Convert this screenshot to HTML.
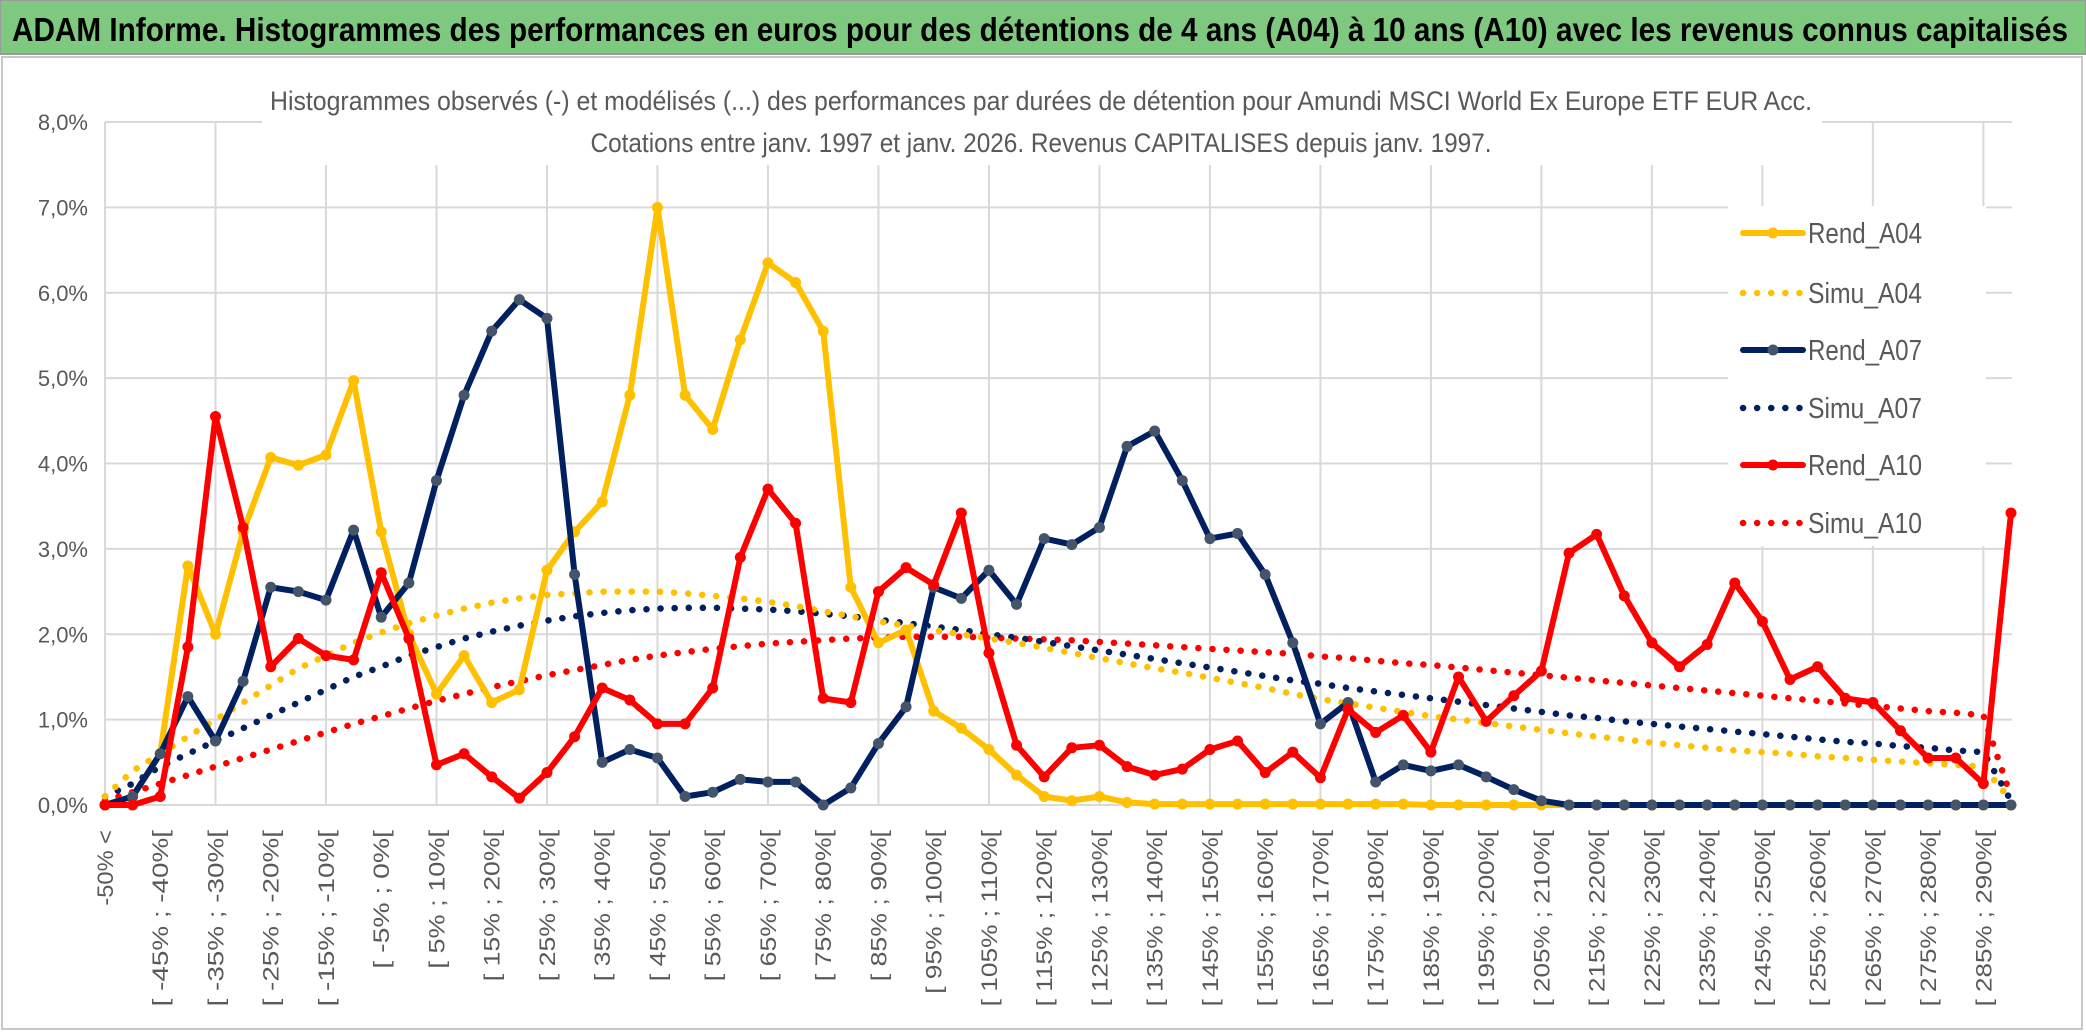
<!DOCTYPE html>
<html><head><meta charset="utf-8"><style>
html,body{margin:0;padding:0;background:#fff;}
svg{display:block;font-family:"Liberation Sans",sans-serif;}
</style></head><body>
<svg id="chart" width="2086" height="1033" viewBox="0 0 2086 1033" xmlns="http://www.w3.org/2000/svg">
<rect x="0" y="0" width="2086" height="1033" fill="#fff"/>
<rect x="2" y="57" width="2080" height="972" fill="none" stroke="#c8c8c8" stroke-width="2"/>
<rect x="0" y="0" width="2086" height="54" fill="#7ec97f" stroke="#9a9a9a" stroke-width="2"/>
<text x="12" y="41" font-size="33" font-weight="bold" fill="#000" textLength="2056" lengthAdjust="spacingAndGlyphs">ADAM Informe. Histogrammes des performances en euros pour des détentions de 4 ans (A04) à 10 ans (A10) avec les revenus connus capitalisés</text>
<g id="grid"></g>
<g id="yaxis"></g>
<g id="xaxis"></g>
<rect x="262" y="75" width="1560" height="90" fill="#fff"/>
<text x="1041" y="110" text-anchor="middle" font-size="27" fill="#595959" textLength="1542" lengthAdjust="spacingAndGlyphs">Histogrammes observés (-) et modélisés (...) des performances par durées de détention pour Amundi MSCI World Ex Europe ETF EUR Acc.</text>
<text x="1041" y="152" text-anchor="middle" font-size="27" fill="#595959" textLength="901" lengthAdjust="spacingAndGlyphs">Cotations entre janv. 1997 et janv. 2026. Revenus CAPITALISES depuis janv. 1997.</text>
<g id="series"></g>
<g id="legend"></g>
</svg>
<script>
const rendA04 = [0,0.1,0.6,2.8,2.0,3.2,4.07,3.98,4.1,4.97,3.2,2.0,1.3,1.75,1.2,1.35,2.75,3.2,3.55,4.8,7.0,4.8,4.4,5.45,6.35,6.12,5.55,2.55,1.9,2.05,1.1,0.9,0.65,0.35,0.1,0.05,0.1,0.03,0.01,0.01,0.01,0.01,0.01,0.01,0.01,0.01,0.01,0.01,0,0,0,0,0,0,0,0,0,0,0,0,0,0,0,0,0,0,0,0,0,0];
const rendA07 = [0,0.1,0.6,1.27,0.75,1.45,2.55,2.5,2.4,3.22,2.2,2.6,3.8,4.8,5.55,5.92,5.7,2.7,0.5,0.65,0.55,0.1,0.15,0.3,0.27,0.27,0,0.2,0.72,1.15,2.55,2.42,2.75,2.35,3.12,3.05,3.25,4.2,4.38,3.8,3.12,3.18,2.7,1.9,0.95,1.2,0.27,0.47,0.4,0.47,0.33,0.18,0.05,0,0,0,0,0,0,0,0,0,0,0,0,0,0,0,0,0];
const rendA10 = [0,0,0.1,1.85,4.55,3.25,1.62,1.95,1.75,1.7,2.72,1.95,0.47,0.6,0.33,0.08,0.38,0.8,1.37,1.23,0.95,0.95,1.37,2.9,3.7,3.3,1.25,1.2,2.5,2.78,2.58,3.42,1.78,0.7,0.33,0.67,0.7,0.45,0.35,0.42,0.65,0.75,0.38,0.62,0.32,1.12,0.85,1.05,0.62,1.5,0.98,1.28,1.57,2.95,3.17,2.45,1.9,1.62,1.88,2.6,2.15,1.47,1.62,1.25,1.2,0.87,0.55,0.55,0.25,3.42];
const simuA04 = [0.1,0.4,0.6,0.8,1.0,1.2,1.4,1.6,1.75,1.9,2.02,2.13,2.22,2.3,2.37,2.42,2.46,2.48,2.5,2.5,2.5,2.48,2.45,2.42,2.38,2.33,2.27,2.21,2.15,2.1,2.05,2.0,1.95,1.9,1.84,1.78,1.72,1.66,1.6,1.55,1.49,1.43,1.37,1.3,1.24,1.19,1.14,1.09,1.04,1.0,0.96,0.92,0.88,0.84,0.8,0.77,0.73,0.7,0.67,0.64,0.62,0.6,0.57,0.55,0.53,0.51,0.49,0.47,0.45,0.05];
const simuA07 = [0.1,0.25,0.45,0.6,0.75,0.9,1.05,1.2,1.35,1.5,1.62,1.75,1.85,1.95,2.03,2.1,2.16,2.21,2.25,2.28,2.3,2.31,2.31,2.3,2.29,2.27,2.24,2.21,2.17,2.13,2.09,2.05,2.0,1.96,1.91,1.86,1.81,1.76,1.71,1.66,1.61,1.56,1.51,1.46,1.42,1.37,1.33,1.29,1.25,1.21,1.17,1.13,1.09,1.05,1.02,0.98,0.95,0.92,0.89,0.86,0.83,0.8,0.77,0.74,0.72,0.69,0.67,0.64,0.62,0.05];
const simuA10 = [0.05,0.15,0.25,0.35,0.45,0.55,0.65,0.75,0.85,0.95,1.04,1.13,1.22,1.3,1.38,1.45,1.52,1.58,1.64,1.7,1.75,1.79,1.83,1.86,1.89,1.91,1.93,1.95,1.96,1.97,1.97,1.97,1.96,1.95,1.94,1.93,1.91,1.89,1.87,1.85,1.83,1.81,1.79,1.77,1.74,1.72,1.69,1.66,1.64,1.61,1.58,1.55,1.52,1.49,1.46,1.43,1.4,1.37,1.34,1.31,1.28,1.25,1.22,1.19,1.16,1.13,1.1,1.08,1.05,0.1];
const yTicks = [0,1,2,3,4,5,6,7,8];
const yTickLabels = ["0,0%","1,0%","2,0%","3,0%","4,0%","5,0%","6,0%","7,0%","8,0%"];
const categories = ["-50% <"];
for (let k = 1; k < 70; k++) { const lo = -50 + 5 * (k - 1); categories.push("[ " + lo + "% ; " + (lo + 5) + "%["); }

const NS = "http://www.w3.org/2000/svg";
const X0 = 105, DX = (2011 - 105) / 69, Y0 = 805, Y8 = 122;
function xPos(i){ return X0 + i * DX; }
function yPos(v){ return Y0 - v * (Y0 - Y8) / 8; }
function mk(tag, attrs, parent){ const e = document.createElementNS(NS, tag); for (const k in attrs) e.setAttribute(k, attrs[k]); parent.appendChild(e); return e; }

const grid = document.getElementById("grid");
yTicks.forEach((t, j) => {
  const l = mk("line", {x1: X0, x2: 2012, y1: yPos(t), y2: yPos(t), stroke: "#d9d9d9", "stroke-width": 2}, grid);
  
  
});
for (let i = 0; i < categories.length; i += 4) {
  const l = mk("line", {x1: xPos(i), x2: xPos(i), y1: Y8, y2: Y0, stroke: "#d9d9d9", "stroke-width": 2}, grid);
  
  
}
const yaxis = document.getElementById("yaxis");
yTicks.forEach((t, j) => {
  const tx = mk("text", {x: 88, y: yPos(t) + 8, "text-anchor": "end", "font-size": 22, fill: "#595959"}, yaxis);
  tx.textContent = yTickLabels[j];
  
  
});
const xaxis = document.getElementById("xaxis");
categories.forEach((c, i) => {
  if (i % 2 !== 0) return;
  const x = xPos(i) + 8;
  const tx = mk("text", {x: x, y: 830, "text-anchor": "end", "font-size": 22, fill: "#595959", transform: "rotate(-90 " + x + " 830)", textLength: c.length * 12.6, lengthAdjust: "spacingAndGlyphs"}, xaxis);
  tx.textContent = c;
  
  
});

const series = document.getElementById("series");
function pts(arr){ return arr.map((v, i) => xPos(i).toFixed(1) + "," + yPos(v).toFixed(1)).join(" "); }
function dotted(arr, color, name){
  const p = mk("polyline", {points: pts(arr), fill: "none", stroke: color, "stroke-width": 6.5, "stroke-linecap": "round", "stroke-dasharray": "0.1 14"}, series);
  
  
}
function solid(arr, color, mcolor, name){
  const p = mk("polyline", {points: pts(arr), fill: "none", stroke: color, "stroke-width": 6, "stroke-linejoin": "round", "stroke-linecap": "round"}, series);
  
  
  arr.forEach((v, i) => {
    const c = mk("circle", {cx: xPos(i), cy: yPos(v), r: 5.5, fill: mcolor}, series);
    
    
  });
}
dotted(simuA10, "#ff0000", "simu-a10-line");
dotted(simuA07, "#002060", "simu-a07-line");
dotted(simuA04, "#ffc000", "simu-a04-line");
solid(rendA04, "#ffc000", "#ffc000", "rend-a04-line");
solid(rendA07, "#002060", "#44546a", "rend-a07-line");
solid(rendA10, "#ff0000", "#ff0000", "rend-a10-line");

const legend = document.getElementById("legend");
const lbg = mk("rect", {x: 1728, y: 206, width: 258, height: 340, fill: "#fff"}, legend);


const legNames = ["Rend_A04","Simu_A04","Rend_A07","Simu_A07","Rend_A10","Simu_A10"];
const legColors = ["#ffc000","#ffc000","#002060","#002060","#ff0000","#ff0000"];
const legMarker = ["#ffc000",null,"#44546a",null,"#ff0000",null];
const legY = [233,293,350,408,465,523];
legNames.forEach((n, k) => {
  const g = mk("g", {}, legend);
  
  
  if (legMarker[k]) {
    mk("line", {x1: 1743, x2: 1803, y1: legY[k], y2: legY[k], stroke: legColors[k], "stroke-width": 6, "stroke-linecap": "round"}, g);
    mk("circle", {cx: 1773, cy: legY[k], r: 5.5, fill: legMarker[k]}, g);
  } else {
    mk("line", {x1: 1743, x2: 1800, y1: legY[k], y2: legY[k], stroke: legColors[k], "stroke-width": 6.5, "stroke-linecap": "round", "stroke-dasharray": "0.1 14"}, g);
  }
  const t = mk("text", {x: 1808, y: legY[k] + 10, "font-size": 29, fill: "#595959", textLength: 114, lengthAdjust: "spacingAndGlyphs"}, g);
  t.textContent = n;
});
</script>
</body></html>
